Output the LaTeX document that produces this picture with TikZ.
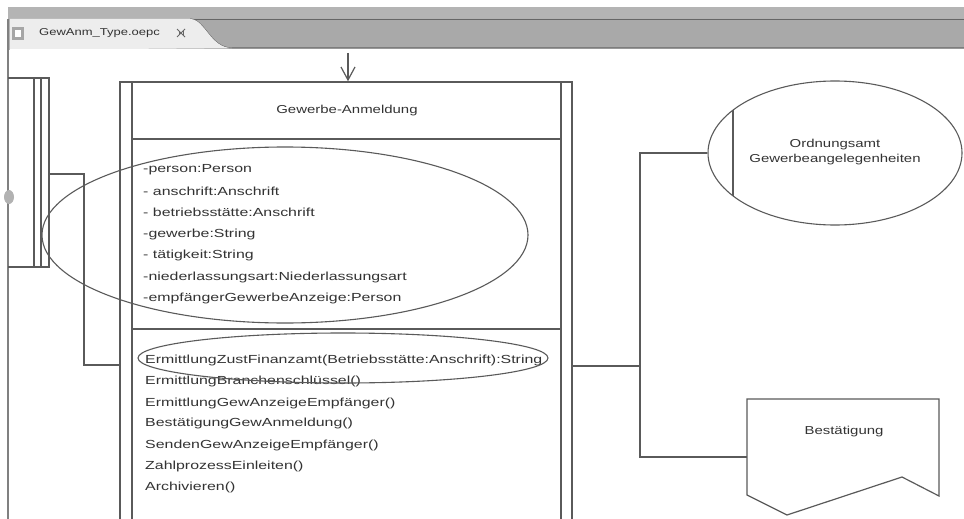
\documentclass[tikz,border=0pt]{standalone}
\usepackage{fontspec}
\setmainfont[FakeStretch=1.3]{Liberation Sans}
\newfontfamily\itemfont[FakeStretch=1.36]{Liberation Sans}
\usetikzlibrary{shapes.geometric,calc}
\definecolor{lg}{HTML}{5A5A5A}
\definecolor{tx}{HTML}{333333}
\definecolor{barA}{HTML}{B4B4B4}
\definecolor{barB}{HTML}{A9A9A9}
\definecolor{tabc}{HTML}{EDEDED}
\begin{document}
\begin{tikzpicture}[x=1pt,y=-1pt,
  ln/.style={draw=lg, line width=1.2pt},
  conn/.style={draw=lg, line width=1.2pt},
  ring/.style={draw=lg, line width=1.1pt, ellipse, inner sep=0pt},
  lbl/.style={text=tx, font=\fontsize{11.5}{12}\selectfont, inner sep=0pt},
  item/.style={text=tx, font=\itemfont\fontsize{11.7}{12}\selectfont, inner sep=0pt, anchor=west}]
\useasboundingbox (0,0) rectangle (964,519);
\fill[white] (0,0) rectangle (964,519);
% editor tab bar
\fill[barA] (8,7) rectangle (964,50);
\fill[barB] (190,19) .. controls (205,19) and (210,48) .. (232,48) -- (964,48) -- (964,19) -- cycle;
\draw[draw=gray!80!black, line width=1pt] (190,19) .. controls (205,19) and (210,48) .. (232,48) -- (964,48);
\draw[draw=gray!80!black, line width=0.8pt] (190,19) -- (964,19);
\fill[tabc] (10,19) -- (190,19) .. controls (205,19) and (210,48) .. (232,48) -- (10,50) -- cycle;
\fill[white] (10,49) rectangle (964,519);
\draw[draw=gray, line width=2pt] (8,19) -- (8,519);
\fill[gray!70] (12,27) rectangle (24,40);
\fill[white] (15,30) rectangle (21,37);
\node[lbl, anchor=west, font=\fontsize{10}{11}\selectfont] (tab) at (39,33) {GewAnm\_Type.oepc};
\draw[draw=gray!80!black, line width=0.8pt] (177,29) -- (185,37) (177,37) -- (185,29);
\draw[draw=gray!80!black, line width=0.8pt] (179,31) -- (179,35) (183,31) -- (183,35);
% small handle on left border
\fill[gray!60] (9,197) ellipse[x radius=5, y radius=7];
% left element
\coordinate (lt) at (8,78);
\draw[ln] (8,78) -- (49,78) -- (49,267) -- (8,267);
\draw[ln] (34,78) -- (34,267);
\draw[ln] (41,78) -- (41,267);
\coordinate (lout) at (49,174);
% main box
\coordinate (boxTL) at (120,82);
\coordinate (boxTR) at (572,82);
\draw[ln, line width=1.6pt] (120,519) -- (120,82) -- (572,82) -- (572,519);
\draw[ln] (132,82) -- (132,519);
\draw[ln] (561,82) -- (561,519);
\draw[ln] (132,139) -- (561,139);
\draw[ln] (132,329) -- (561,329);
\node[lbl] (title) at (347,111) {Gewerbe-Anmeldung};
% incoming arrow
\coordinate (arrtop) at (348,53);
\coordinate (arrbot) at (348,80);
\draw[conn] (arrtop) -- (arrbot);
\draw[conn] (341,67) -- (arrbot) -- (355,67);
% attributes
\node[item] (a1) at (143,170) {-person:Person};
\node[item] (a2) at (143,191) {- anschrift:Anschrift};
\node[item] (a3) at (143,212) {- betriebsstätte:Anschrift};
\node[item] (a4) at (143,234) {-gewerbe:String};
\node[item] (a5) at (143,255) {- tätigkeit:String};
\node[item] (a6) at (143,277) {-niederlassungsart:Niederlassungsart};
\node[item] (a7) at (143,298) {-empfängerGewerbeAnzeige:Person};
\node[ring, minimum width=486pt, minimum height=176pt] (attrell) at (285,235) {};
% methods
\node[item] (m1) at (145,360) {ErmittlungZustFinanzamt(Betriebsstätte:Anschrift):String};
\node[item] (m2) at (145,381) {ErmittlungBranchenschlüssel()};
\node[item] (m3) at (145,403) {ErmittlungGewAnzeigeEmpfänger()};
\node[item] (m4) at (145,423) {BestätigungGewAnmeldung()};
\node[item] (m5) at (145,445) {SendenGewAnzeigeEmpfänger()};
\node[item] (m6) at (145,466) {ZahlprozessEinleiten()};
\node[item] (m7) at (145,487) {Archivieren()};
\node[ring, minimum width=410pt, minimum height=50pt] (methell) at (343,358) {};
% left connector
\coordinate (lbend) at (84,174);
\coordinate (lin) at (120,365);
\draw[conn] (lout) -- (lbend) |- (lin);
% right side
\node[ring, minimum width=254pt, minimum height=144pt] (org) at (835,153) {};
\node[lbl, align=center] (orgtxt) at (835,152) {Ordnungsamt\\[3pt]Gewerbeangelegenheiten};
\draw[ln] ($(org.center)+(143.4:127pt and 72pt)$) -- ($(org.center)+(216.6:127pt and 72pt)$);
\coordinate (rout) at (572,366);
\coordinate (rj) at (640,366);
\coordinate (bl) at (747,457);
\draw[conn] (rout) -- (rj);
\draw[conn] (rj) |- (org.west);
\draw[conn] (rj) |- (bl);
% Bestaetigung document shape
\draw[ln] (747,399) -- (939,399) -- (939,496) -- (902,477) -- (787,515) -- (747,495) -- cycle;
\node[lbl] (best) at (844,432) {Bestätigung};
\end{tikzpicture}
\end{document}
